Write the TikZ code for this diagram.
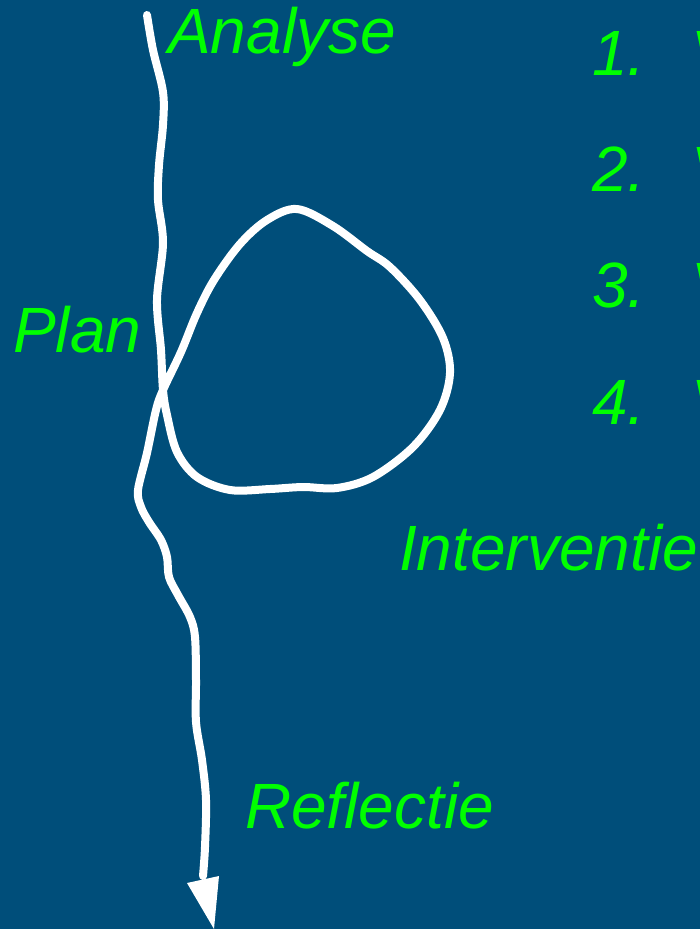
\documentclass[tikz,border=0pt]{standalone}
\usepackage{fontspec}
\setmainfont{Liberation Sans}
\definecolor{bgblue}{RGB}{0,78,122}
\definecolor{lblgreen}{RGB}{0,255,0}
\begin{document}
\begin{tikzpicture}[x=1pt,y=-1pt,
  lbl/.style={inner sep=0pt,anchor=base west,text=lblgreen,font=\fontsize{64}{70}\selectfont\itshape},
  flow/.style={draw=white,line width=8pt,line cap=round,line join=round}]
\fill[bgblue] (0,0) rectangle (700,929);
\useasboundingbox (0,0) rectangle (700,929);
% labels
\node[lbl] (analyse) at (168,53) {Analyse};
\node[lbl] (plan) at (13,352) {Plan};
\node[lbl] (interv) at (399,570) {Interventie};
\node[lbl] (refl) at (245,828) {Reflectie};
\node[lbl] (n1) at (592,75) {1.};
\node[lbl] (n2) at (592,191) {2.};
\node[lbl] (n3) at (592,307) {3.};
\node[lbl] (n4) at (592,424) {4.};
\node[lbl] (v1) at (691,75) {V};
\node[lbl] (v2) at (691,191) {V};
\node[lbl] (v3) at (691,307) {V};
\node[lbl] (v4) at (691,424) {V};
% path with loop
\draw[flow] plot[smooth,tension=0.55] coordinates {
 (147,15) (153,50) (163,92) (163,125) (159,165) (158,200) (163,243) (157,300) (161,350) (163,390)
 (167,415) (177,452) (197,477) (230,490) (270,489) (303,487) (337,488) (373,477) (413,447)
 (440,410) (450,373) (443,338) (420,300) (390,267) (367,251) (333,226) (297,209) (267,220)
 (240,244) (214,280) (197,313) (181,352) (163,390)
 (156,410) (147,453) (138,490) (141,507) (149,522) (161,540) (167,557) (169,577) (178,595)
 (190,617) (195,637) (196,680) (196,722) (202,760) (206,800) (205,847) (203,876)};
\coordinate (tl) at (187,883);
\coordinate (tr) at (219,876);
\coordinate (tip) at (214,929);
\fill[white] (tl) -- (tr) -- (tip) -- cycle;
\end{tikzpicture}
\end{document}
